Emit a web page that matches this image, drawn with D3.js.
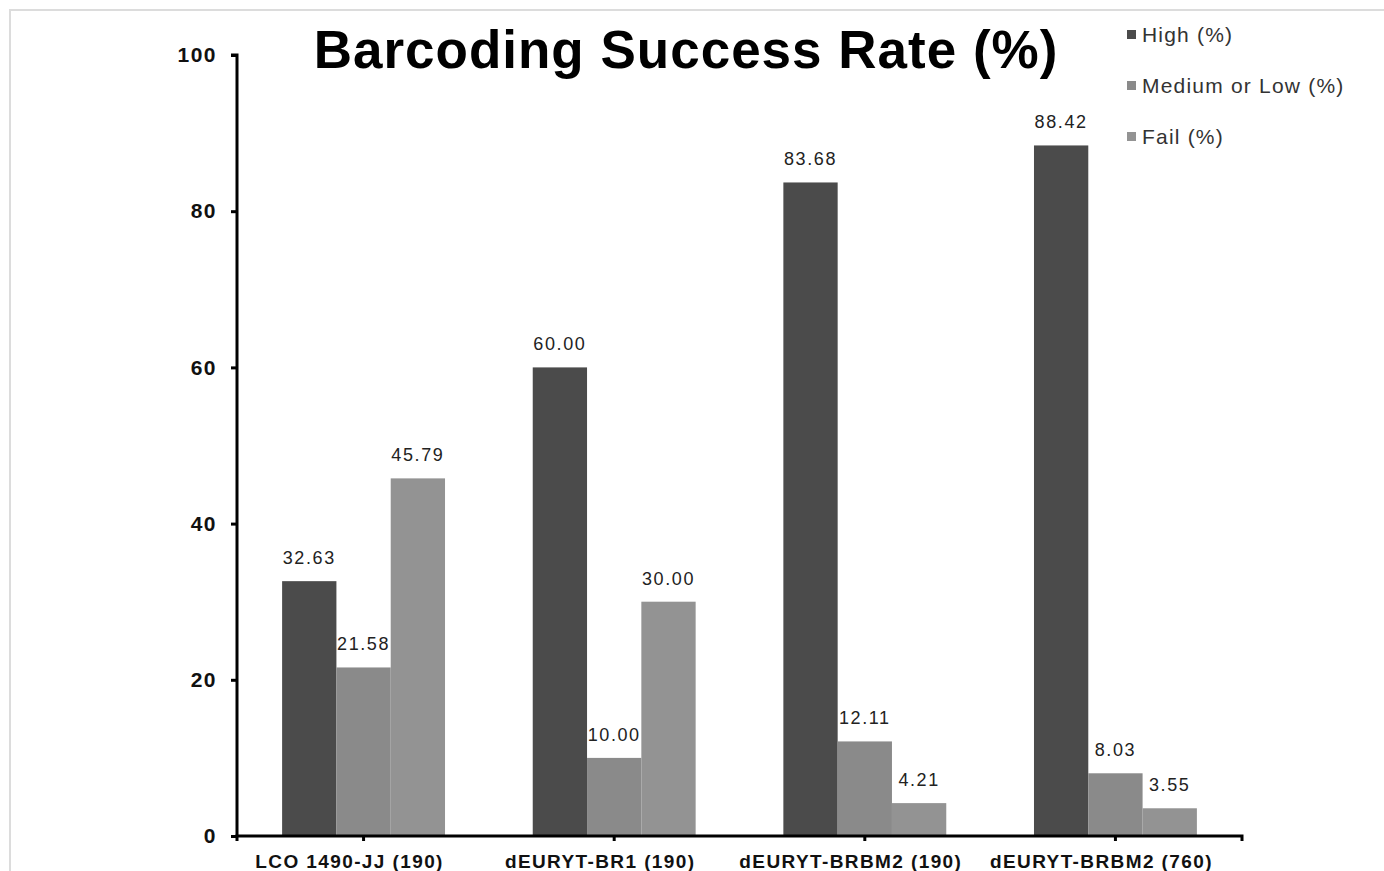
<!DOCTYPE html>
<html>
<head>
<meta charset="utf-8">
<script src="https://cdn.jsdelivr.net/npm/d3@7"></script>
<style>
  body { margin: 0; background: #fff; }
  text { font-family: "Liberation Sans", Arial, sans-serif; }
</style>
</head>
<body>
<svg id="chart" width="1384" height="871"></svg>
<script>
// data
const groups = ['LCO 1490-JJ (190)', 'dEURYT-BR1 (190)', 'dEURYT-BRBM2 (190)', 'dEURYT-BRBM2 (760)'];
const seriesNames = ['High (%)', 'Medium or Low (%)', 'Fail (%)'];
const high = [32.63, 60.00, 83.68, 88.42];
const mediumLow = [21.58, 10.00, 12.11, 8.03];
const fail = [45.79, 30.00, 4.21, 3.55];
const yTicks = [0, 20, 40, 60, 80, 100];
const colors = ['#4b4b4b', '#8a8a8a', '#939393'];

const svg = d3.select('#chart');
const pLeft = 237, pRight = 1242, pTop = 55, pBottom = 836;

// faint frame like the screenshot
svg.append('rect').attr('x', 10).attr('y', 10).attr('width', 1400).attr('height', 900)
  .attr('fill', 'none').attr('stroke', '#dcdcdc').attr('stroke-width', 2);

const x0 = d3.scaleBand().domain(groups).range([pLeft, pRight]).paddingInner(0.35).paddingOuter(0.18);
const x1 = d3.scaleBand().domain(seriesNames).range([0, x0.bandwidth()]);
const y = d3.scaleLinear().domain([0, 100]).range([pBottom, pTop]);

const allSeries = [high, mediumLow, fail];
const rows = groups.map((g, i) => ({ g, vals: seriesNames.map((s, j) => ({ s, j, v: allSeries[j][i] })) }));

const gBars = svg.append('g');
const grp = gBars.selectAll('g').data(rows).enter().append('g')
  .attr('transform', d => `translate(${x0(d.g)},0)`);

grp.selectAll('rect').data(d => d.vals).enter().append('rect')
  .attr('x', d => x1(d.s))
  .attr('y', d => y(d.v))
  .attr('width', x1.bandwidth())
  .attr('height', d => pBottom - y(d.v))
  .attr('fill', d => colors[d.j]);

grp.selectAll('text').data(d => d.vals).enter().append('text')
  .attr('x', d => x1(d.s) + x1.bandwidth() / 2)
  .attr('y', d => y(d.v) - 17)
  .attr('text-anchor', 'middle')
  .attr('font-size', 18)
  .attr('letter-spacing', 1.6)
  .attr('fill', '#222')
  .text(d => d.v.toFixed(2));

// y axis
const yAxis = svg.append('g').attr('transform', `translate(${pLeft},0)`)
  .call(d3.axisLeft(y).tickValues(yTicks).tickSize(6).tickPadding(14));
yAxis.select('.domain').attr('stroke-width', 3).attr('d', `M-6,${pTop}H0V${pBottom}`);
yAxis.selectAll('.tick line').attr('stroke-width', 3);
yAxis.selectAll('.tick text').attr('font-size', 21).attr('font-weight', 'bold').attr('fill', '#111')
  .attr('letter-spacing', 1.5);

// x axis
const xAxis = svg.append('g').attr('transform', `translate(0,${pBottom})`)
  .call(d3.axisBottom(x0).tickSize(5).tickPadding(14));
xAxis.select('.domain').attr('stroke-width', 3).attr('d', `M${pLeft},5V0H${pRight}V5`);
xAxis.selectAll('.tick line').attr('stroke-width', 3);
xAxis.selectAll('.tick text').attr('font-size', 19).attr('font-weight', 'bold').attr('fill', '#111')
  .attr('letter-spacing', 1.4).attr('dx', -14);

// title
svg.append('text').attr('x', 686).attr('y', 68).attr('text-anchor', 'middle')
  .attr('font-size', 53).attr('font-weight', 'bold').attr('fill', '#000')
  .attr('letter-spacing', 1)
  .text('Barcoding Success Rate (%)');

// legend
const legend = svg.append('g').attr('transform', 'translate(1127,35)');
const li = legend.selectAll('g').data(seriesNames).enter().append('g')
  .attr('transform', (d, i) => `translate(0,${i * 51})`);
li.append('rect').attr('x', 0).attr('y', -5).attr('width', 9).attr('height', 9)
  .attr('fill', (d, i) => colors[i]);
li.append('text').attr('x', 15).attr('y', 7).attr('font-size', 21).attr('fill', '#333')
  .attr('letter-spacing', 1.2)
  .text(d => d);
</script>
</body>
</html>
